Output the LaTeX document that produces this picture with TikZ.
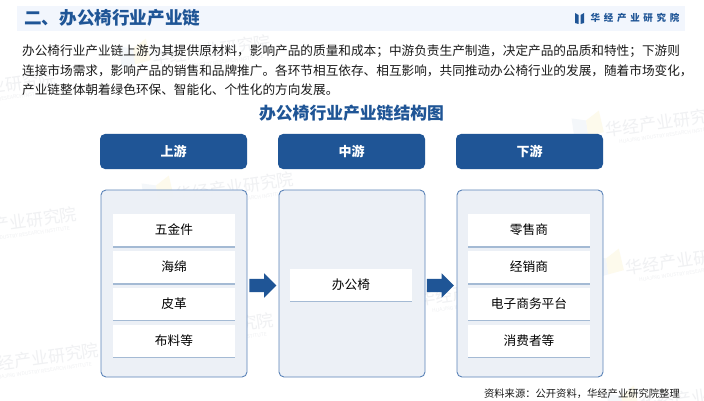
\documentclass[tikz,border=0pt]{standalone}
\usepackage{fontspec}
\setmainfont{Noto Sans CJK SC}
\usetikzlibrary{shapes.arrows,shadows,positioning}
\definecolor{hjblue}{HTML}{1F5596}
\definecolor{barbg}{HTML}{F2F6FD}
\definecolor{panelbg}{HTML}{ECF0F6}
\definecolor{panelline}{HTML}{5B83B8}
\definecolor{bodytxt}{HTML}{1A1A1A}
\definecolor{wmtxt}{HTML}{F0F1F3}
\newcommand{\px}[1]{\fontsize{#1pt}{#1pt}\selectfont}
\newcommand{\wmark}[2]{%
  \node[wmnode] at (#1,#2) {\px{17}华经产业研究院};
  \node[wmsub] at (#1+3,#2+13) {\px{5}HUAJING INDUSTRY RESEARCH INSTITUTE};
  \fill[wmblue,rotate around={8:(#1-75,#2+5)}] (#1-92,#2-6) -- (#1-78,#2-2) -- (#1-78,#2+14) -- (#1-92,#2+16) -- cycle;
  \fill[wmyellow,rotate around={8:(#1-75,#2+5)}] (#1-78,#2-2) -- (#1-64,#2-10) -- (#1-62,#2+12) -- (#1-78,#2+14) -- cycle;
}
\colorlet{wmblue}{hjblue!5}
\definecolor{wmyellow}{HTML}{FDFAEC}
\tikzset{
  x=1pt,y=-1pt,
  wmnode/.style={text=wmtxt,rotate=8,inner sep=0pt},
  wmsub/.style={text=wmtxt,rotate=8,inner sep=0pt},
  titlebar/.style={fill=barbg,draw=none,minimum width=668pt,minimum height=25pt,inner sep=0pt},
  bodyline/.style={anchor=west,inner sep=0pt,text=bodytxt},
  header/.style={fill=hjblue,rounded corners=5pt,minimum width=147pt,minimum height=35pt,inner sep=0pt,text=white,font=\bfseries\px{13}},
  panel/.style={fill=panelbg,fill opacity=.95,draw=panelline,draw opacity=1,line width=.9pt,rounded corners=5pt,minimum width=146pt,minimum height=187pt,inner sep=0pt},
  card/.style={fill=white,minimum width=122pt,minimum height=32pt,inner sep=0pt,text=black,font=\px{12.7},
    general shadow={fill=hjblue!35!panelbg,shadow xshift=.3pt,shadow yshift=-1.5pt}},
  flow/.style={single arrow,fill=hjblue,draw=none,inner sep=6.5pt,minimum width=24pt,minimum height=27pt,single arrow head extend=5.5pt,single arrow tip angle=90,shape border rotate=0},
}
\begin{document}
\begin{tikzpicture}
\useasboundingbox (0,0) rectangle (704,401);
\fill[white] (0,0) rectangle (704,401);
% watermarks
\wmark{212}{50}
\wmark{-3}{86}
\wmark{235}{187}
\wmark{18}{222}
\wmark{40}{358}
\wmark{665}{122}
\wmark{685}{260}
\wmark{478}{291}
\wmark{215}{328}
\wmark{700}{397}
% title bar
\node[titlebar] (bar) at (351,18.5) {};
\node[anchor=west,inner sep=0pt,text=hjblue,font=\bfseries\px{17.6}] (title) at (24,18) {二、办公椅行业产业链};
\fill[hjblue] (575,13) -- (578.5,15) -- (578.5,24) -- (575,23) -- cycle;
\fill[hjblue] (584,13) -- (580.5,15) -- (580.5,24) -- (584,23) -- cycle;
\node[anchor=west,inner sep=0pt,text=hjblue,font=\bfseries\px{9.5}] (brand) at (590.5,18) {华\hspace{3.7pt}经\hspace{3.7pt}产\hspace{3.7pt}业\hspace{3.7pt}研\hspace{3.7pt}究\hspace{3.7pt}院};
% body text
\node[bodyline] (l1) at (22,51) {\px{12.65}办公椅行业产业链上游为其提供原材料，影响产品的质量和成本；中游负责生产制造，决定产品的品质和特性；下游则};
\node[bodyline] (l2) at (22,70.5) {\px{12.65}连接市场需求，影响产品的销售和品牌推广。各环节相互依存、相互影响，共同推动办公椅行业的发展，随着市场变化，};
\node[bodyline] (l3) at (22,90) {\px{12.65}产业链整体朝着绿色环保、智能化、个性化的方向发展。};
\node[inner sep=0pt,text=hjblue,font=\bfseries\px{16.8}] (sub) at (351.5,113.5) {办公椅行业产业链结构图};
% headers
\node[header] (h1) at (173.5,151.5) {上游};
\node[header] (h2) at (351.5,151.5) {中游};
\node[header] (h3) at (529.5,151.5) {下游};
% panels
\node[panel] (p1) at (174,283.5) {};
\node[panel] (p2) at (352,283.5) {};
\node[panel] (p3) at (530,283.5) {};
% cards
\node[card] (a1) at (174,230) {五金件};
\node[card] (a2) at (174,267) {海绵};
\node[card] (a3) at (174,303.5) {皮革};
\node[card] (a4) at (174,340.5) {布料等};
\node[card] (b1) at (351,284.5) {办公椅};
\node[card] (c1) at (529,230) {零售商};
\node[card] (c2) at (529,267) {经销商};
\node[card] (c3) at (529,303.5) {电子商务平台};
\node[card] (c4) at (529,340.5) {消费者等};
% arrows
\node[flow] (f1) at (259.5,285.5) {};
\node[flow] (f2) at (437,285.5) {};
% source
\node[anchor=east,inner sep=0pt,text=bodytxt,font=\px{10.3}] (src) at (680,394) {资料来源：公开资料，华经产业研究院整理};
\end{tikzpicture}
\end{document}
